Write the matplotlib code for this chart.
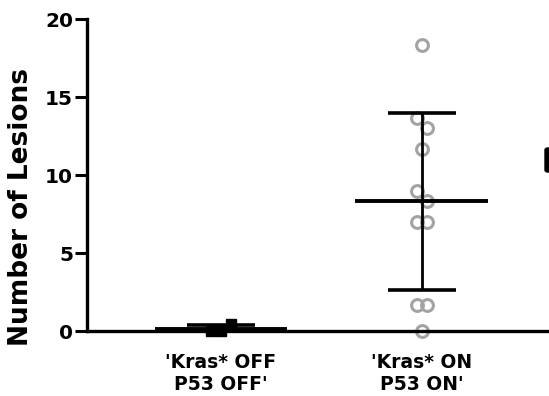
import numpy as np
import matplotlib
matplotlib.use("Agg")
import matplotlib.pyplot as plt
from matplotlib.patches import FancyBboxPatch

# data
groups = ["'Kras* OFF\nP53 OFF'", "'Kras* ON\nP53 ON'"]
lesions_off = [0, 0, 0.45]
lesions_on = [18.33, 13.67, 13.0, 11.67, 9.0, 8.33, 7.0, 7.0, 1.67, 1.67, 0]
yticks = [0, 5, 10, 15, 20]


def swarm_offsets(vals, step=0.048, gap=1.0):
    # put values that sit close together side by side, symmetric round the centre
    offs = np.zeros(len(vals))
    i = 0
    while i < len(vals):
        j = i
        while j + 1 < len(vals) and abs(vals[j + 1] - vals[j]) < gap:
            j += 1
        k = j - i + 1
        for n in range(k):
            offs[i + n] = (n - (k - 1) / 2) * step
        i = j + 1
    return offs


fig = plt.figure(figsize=(5.49, 3.96), dpi=100)
ax = fig.add_axes([0.1585, 0.164, 0.8415, 0.788])

data = [lesions_off, lesions_on]
for i, vals in enumerate(data):
    vals = np.array(vals, dtype=float)
    m = vals.mean()
    sd = vals.std(ddof=1)
    xs = i + swarm_offsets(vals)
    if i == 0:
        ax.plot(xs, vals, "s", color="black", ms=7, zorder=3, clip_on=False)
    else:
        ax.plot(xs, vals, "o", mfc="none", mec="#a3a3a3", mew=2.2, ms=8.5,
                zorder=2, clip_on=False)
    ax.vlines(i, m - sd, m + sd, color="black", lw=2, zorder=4)
    ax.hlines([m - sd, m + sd], i - 0.17, i + 0.17, color="black", lw=2.6, zorder=4)
    ax.hlines(m, i - 0.33, i + 0.33, color="black", lw=2.8, zorder=4)

ax.set_xlim(-0.667, 1.634)
ax.set_ylim(0, 20)
ax.set_yticks(yticks)
ax.set_xticks(range(len(groups)))
ax.set_xticklabels(groups, fontsize=13.5, fontweight="bold", family="DejaVu Sans",
                   linespacing=1.2)
ax.tick_params(axis="x", length=0, pad=16)
ax.tick_params(axis="y", length=9, width=2.2, direction="out", pad=1)
for lab in ax.get_yticklabels():
    lab.set_fontsize(14.5)
    lab.set_fontweight("bold")
    lab.set_family("DejaVu Sans")
ax.set_ylabel("Number of Lesions", fontsize=19, fontweight="bold",
              family="DejaVu Sans")
ax.yaxis.set_label_coords(-0.115, 0.396)

for s in ["top", "right"]:
    ax.spines[s].set_visible(False)
ax.spines["left"].set_linewidth(2.4)
ax.spines["bottom"].set_linewidth(2.4)

# cut-off glyph at the right edge of the crop
fig.patches.append(FancyBboxPatch((545 / 549, 1 - 172 / 396), 0.02, 24 / 396,
                                  boxstyle="round,pad=0,rounding_size=0.005",
                                  transform=fig.transFigure, color="black"))

fig.savefig("out.png", dpi=100)
